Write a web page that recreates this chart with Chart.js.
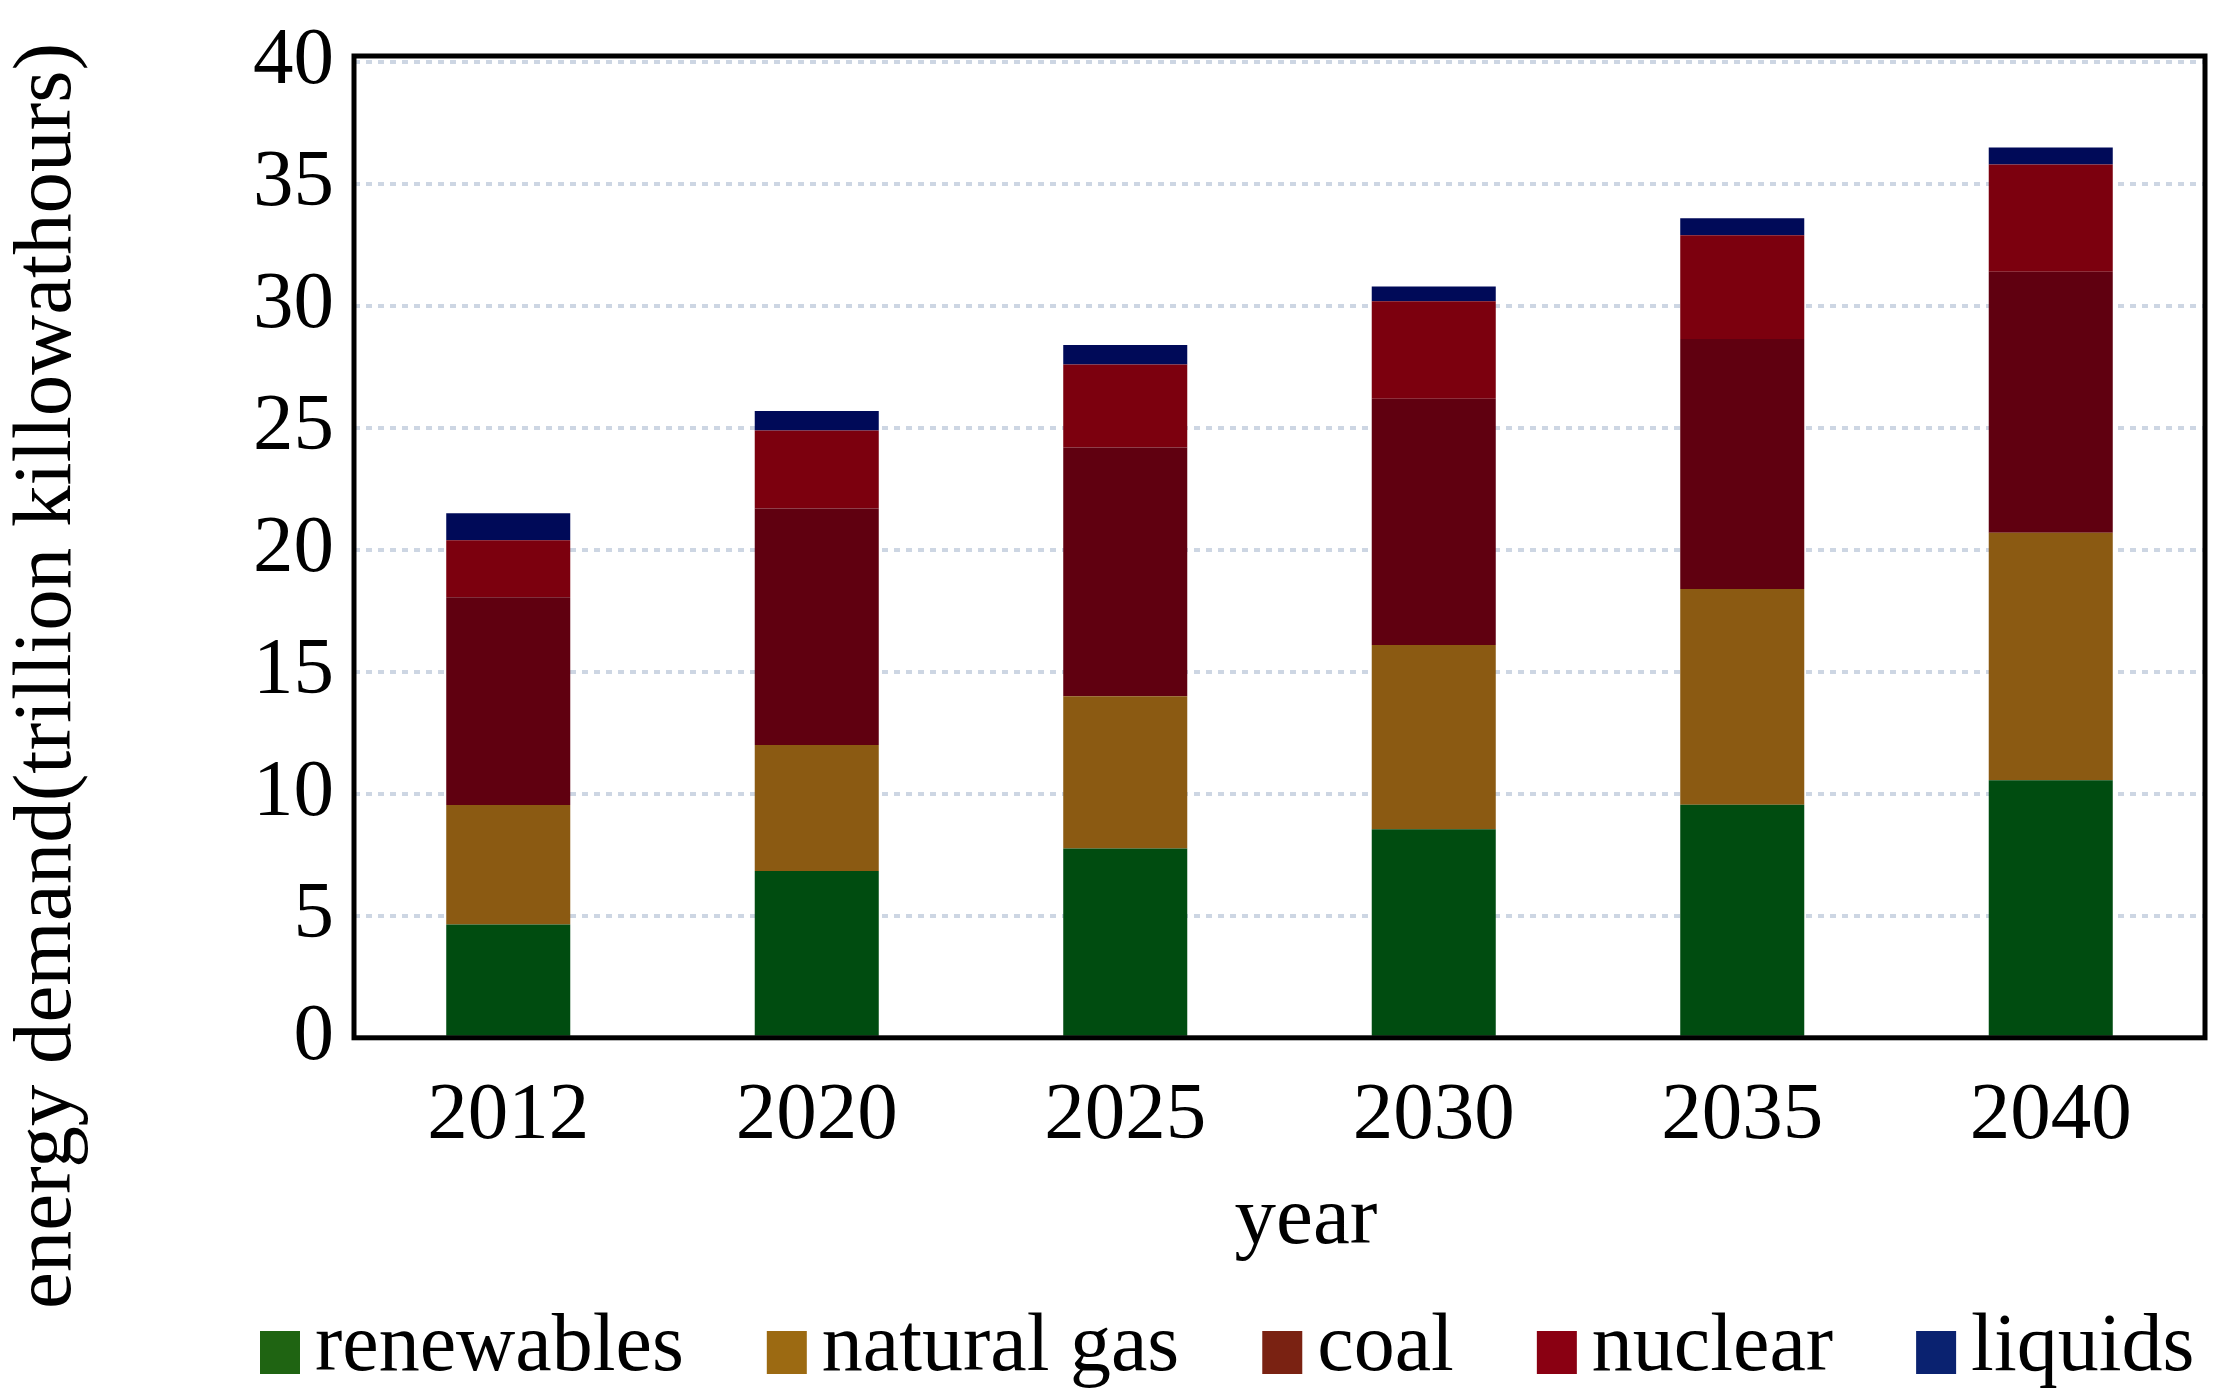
<!DOCTYPE html>
<html>
<head>
<meta charset="utf-8">
<script src="https://cdn.jsdelivr.net/npm/chart.js@4.4.1/dist/chart.umd.min.js"></script>
<style>
html, body { margin: 0; padding: 0; background: #fff; }
</style>
</head>
<body>
<canvas id="energyChart" width="2220" height="1396"></canvas>
<script>
// values, trillion kWh per segment
var years = ['2012', '2020', '2025', '2030', '2035', '2040'];
var renewables = [4.64, 6.84, 7.76, 8.55, 9.55, 10.56];
var naturalGas = [4.9, 5.16, 6.24, 7.55, 8.85, 10.14];
var coal = [8.52, 9.7, 10.2, 10.1, 10.25, 10.7];
var nuclear = [2.34, 3.2, 3.4, 4.0, 4.25, 4.4];
var liquids = [1.1, 0.8, 0.8, 0.6, 0.7, 0.7];
var seriesNames = ['renewables', 'natural gas', 'coal', 'nuclear', 'liquids'];

var barColors = ['#004c10', '#8b5a12', '#600010', '#7c000e', '#000a58'];
var legendColors = ['#1f6412', '#9c6a12', '#7a2212', '#8a0012', '#0a2270'];
var serif = '"Liberation Serif", "Times New Roman", serif';

var frame = {
	id: 'frame',
	afterDatasetsDraw: function(chart) {
		var a = chart.chartArea, ctx = chart.ctx;
		ctx.save();
		ctx.setLineDash([]);
		ctx.lineWidth = 5;
		ctx.strokeStyle = '#000';
		ctx.strokeRect(a.left, a.top, a.right - a.left, a.bottom - a.top);
		ctx.restore();
	}
};

// axis titles and legend drawn by hand so they sit where the original has them
var extras = {
	id: 'extras',
	afterDraw: function(chart) {
		var ctx = chart.ctx;
		ctx.save();
		ctx.fillStyle = '#000';
		ctx.font = '83px ' + serif;
		ctx.textAlign = 'center';
		ctx.textBaseline = 'alphabetic';
		ctx.fillText('year', 1306, 1243);
		ctx.translate(70, 676);
		ctx.rotate(-Math.PI / 2);
		ctx.fillText('energy demand(trillion killowathours)', 0, 0);
		ctx.restore();

		ctx.save();
		ctx.font = '82px ' + serif;
		ctx.textAlign = 'left';
		ctx.textBaseline = 'alphabetic';
		var x = 260;
		chart.data.datasets.forEach(function(ds, i) {
			ctx.fillStyle = legendColors[i];
			ctx.fillRect(x, 1331, 40, 43);
			ctx.fillStyle = '#000';
			ctx.fillText(ds.label, x + 55, 1370);
			x += 55 + ctx.measureText(ds.label).width + 83;
		});
		ctx.restore();
	}
};

var seriesData = [renewables, naturalGas, coal, nuclear, liquids];
var datasets = seriesData.map(function(vals, i) {
	return {
		label: seriesNames[i],
		data: vals,
		backgroundColor: barColors[i],
		borderWidth: 0,
		barPercentage: 0.402,
		categoryPercentage: 1
	};
});

new Chart(document.getElementById('energyChart'), {
	type: 'bar',
	data: { labels: years, datasets: datasets },
	plugins: [frame, extras],
	options: {
		responsive: false,
		devicePixelRatio: 1,
		animation: false,
		layout: { padding: { left: 233, right: 15, top: 56, bottom: 201 } },
		plugins: {
			legend: { display: false },
			tooltip: { enabled: false }
		},
		scales: {
			x: {
				stacked: true,
				grid: { display: false, drawTicks: false },
				border: { display: false },
				ticks: { color: '#000', padding: 30, font: { family: serif, size: 81 } }
			},
			y: {
				stacked: true,
				min: 0,
				max: 40.25,
				grid: { color: 'rgba(196,207,222,0.85)', lineWidth: 4, drawTicks: false },
				border: { display: false, dash: [6, 6] },
				ticks: {
					stepSize: 5,
					includeBounds: false,
					color: '#000',
					padding: 20,
					font: { family: serif, size: 81, lineHeight: 0.88 }
				}
			}
		}
	}
});
</script>
</body>
</html>
